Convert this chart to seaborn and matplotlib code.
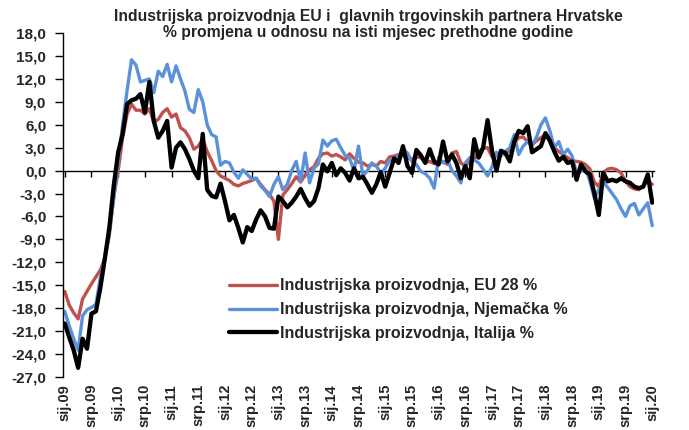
import numpy as np
import pandas as pd
import matplotlib
matplotlib.use("Agg")
import matplotlib.pyplot as plt
import seaborn as sns
from matplotlib.ticker import FuncFormatter

title_line1 = "Industrijska proizvodnja EU i  glavnih trgovinskih partnera Hrvatske"
title_line2 = "% promjena u odnosu na isti mjesec prethodne godine"

series_names = ["Industrijska proizvodnja, EU 28 %",
                "Industrijska proizvodnja, Njemačka %",
                "Industrijska proizvodnja, Italija %"]

tick_labels = ["sij.09", "srp.09", "sij.10", "srp.10", "sij.11", "srp.11", "sij.12", "srp.12",
               "sij.13", "srp.13", "sij.14", "srp.14", "sij.15", "srp.15", "sij.16", "srp.16",
               "sij.17", "srp.17", "sij.18", "srp.18", "sij.19", "srp.19", "sij.20"]

# monthly values, Jan 2009 .. Jan 2020
eu28 = [
    -15.8, -17.6, -18.6, -19.4, -16.8, -15.8, -14.8, -13.9, -13.0, -11.5, -8.5, -3.5,
    0.0, 4.3, 7.4, 8.7, 7.9, 7.9, 7.4, 8.1, 6.3, 6.7, 7.6, 8.1,
    7.0, 7.4, 5.6, 5.2, 4.3, 2.8, 3.2, 4.1, 2.5, 1.3, 0.0, -0.7,
    -1.0, -1.3, -1.8, -2.0, -1.7, -1.5, -1.3, -1.0, -1.8, -2.5, -3.1, -4.0,
    -9.0, -3.2, -2.5, -1.7, -0.8, -1.5, -0.6, 0.1, 0.5, 1.6, 2.2, 2.3,
    1.9, 2.1, 1.8, 1.4, 2.2, 1.6, 1.1, 1.0, 0.6, 0.8, 0.6, 1.2,
    1.0, 1.8, 1.9, 2.1, 2.0, 1.6, 1.5, 1.8, 1.7, 1.1, 1.2, 0.9,
    1.0, 1.2, 0.8, 2.3, 2.5, 1.0, 0.6, 1.2, 1.4, 2.5, 2.9, 3.0,
    1.8, 2.0, 2.3, 2.2, 2.7, 3.6, 4.3, 4.4, 3.8, 3.4, 3.9, 4.3,
    4.7, 4.2, 3.0, 2.5, 2.1, 1.7, 1.3, 1.2, 1.1, 0.8, 0.2, -1.5,
    -2.1, -0.3, 0.2, 0.3, 0.1, -0.3, -1.4, -2.1, -2.4, -2.5, -2.0, -1.3,
    -1.8,
]

germany = [
    -18.4, -20.3, -22.0, -23.5, -19.0, -18.2, -17.9, -17.5, -14.0, -11.5, -8.0, -3.6,
    1.2, 6.0, 10.5, 14.5, 13.8, 11.6, 11.8, 12.0, 10.2, 13.0, 12.3, 13.9,
    11.6, 13.7, 12.0, 10.4, 8.0, 7.6, 10.6, 9.0, 6.0, 4.7, 4.4, 0.7,
    1.2, 1.0, -0.2, -1.0, 0.1, -0.5, -1.1, -1.0, -2.0, -2.6, -3.4, -1.8,
    -0.8, -2.5, -1.8, 0.0, 1.2, -1.4, 2.3, -1.6, 0.3, 0.9, 4.0, 3.2,
    3.9, 4.1, 3.0, 2.0, 1.6, 0.0, 3.2, -0.7, 0.0, 1.0, 0.6, -0.3,
    0.3, 1.4, 1.4, 1.9, 2.8, 2.3, 1.2, 0.8, -0.1, -0.4, -1.0, -2.3,
    1.7, 1.0, 1.4, 0.0, -0.7, -1.6, 1.0, 1.7, 1.4, 1.0, 0.2, -0.7,
    0.5, 2.4, 1.9, 2.5, 3.0, 4.7, 2.1, 3.2, 3.8, 3.2, 4.4, 6.0,
    6.9, 5.2, 3.0, 3.8, 2.1, 2.8, 1.9, -0.3, -0.1, 0.3, -1.4, -3.6,
    -2.5, -1.5, -2.2, -3.0, -3.8, -5.0, -6.0, -4.6, -4.3, -5.8, -5.0, -4.2,
    -7.2,
]

italy = [
    -20.0, -21.8, -23.5, -25.8, -22.0, -23.3, -18.7, -18.4, -15.3, -11.5, -7.5, -2.0,
    2.4, 4.8, 8.7, 9.2, 9.4, 10.0, 7.6, 11.6, 6.5, 4.3, 5.2, 6.5,
    0.4, 3.0, 3.7, 2.8, 1.5, 0.0, -1.0, 4.8, -2.5, -3.3, -3.5, -1.7,
    -4.0, -6.5, -5.8, -7.5, -9.4, -7.4, -7.9, -6.4, -5.2, -6.0, -7.5, -7.6,
    -3.4, -4.0, -4.8, -4.2, -3.4, -2.4, -3.6, -4.6, -4.0, -2.3, 0.8, -0.1,
    1.0, -0.6, 0.3, -0.3, -1.3, 0.3, -1.0, -0.8, -1.8, -2.9, -1.8, -0.2,
    -2.1, -0.3, 1.6, 1.0, 3.2, 0.6, -0.3, 2.7, 2.0, 1.0, 2.8, 1.2,
    0.8, 3.8, 1.2, 2.1, 1.0, -1.0, 0.6, -1.0, 4.1, 1.7, 3.0, 6.6,
    2.6, 0.0, 2.6, 2.3, 1.2, 3.8, 5.2, 4.9, 5.8, 2.4, 2.8, 3.2,
    4.9, 3.9, 2.5, 1.3, 1.8, 1.0, 1.2, -1.2, 0.8, -0.1, -0.5, -3.0,
    -5.8, -0.3, -1.4, -1.2, -1.4, -1.0, -1.4, -1.6, -2.1, -2.3, -2.1, -0.5,
    -4.2,
]

colors = ["#C0504D", "#5A91D8", "#000000"]
widths = [2.4, 2.4, 3.1]

months = np.arange(len(eu28))
df = pd.DataFrame({"m": np.tile(months, 3),
                   "v": eu28 + germany + italy,
                   "s": np.repeat(series_names, len(months))})

sns.set_style("white")
plt.rcParams["font.family"] = ["Liberation Sans", "DejaVu Sans"]

fig = plt.figure(figsize=(6.89, 4.30), dpi=100)
ax = fig.add_axes([63 / 689, 1 - 377 / 430, (654 - 63) / 689, (377 - 33) / 430])

for name, c, w in zip(series_names, colors, widths):
    sns.lineplot(data=df[df["s"] == name], x="m", y="v", color=c, linewidth=w,
                 label=name, ax=ax)

ax.set_xlim(-0.4, 132.4)
ax.set_ylim(-27, 18)
ax.set_yticks(np.arange(-27, 19, 3))
ax.yaxis.set_major_formatter(FuncFormatter(lambda v, p: f"{v:.1f}".replace(".", ",")))
ax.tick_params(axis="y", direction="out", length=6, width=1, color="black",
               labelsize=11, pad=6, left=True)
for lab in ax.get_yticklabels():
    lab.set_fontweight("bold")

for s in ["top", "right"]:
    ax.spines[s].set_visible(False)
ax.spines["left"].set_color("black")
ax.spines["left"].set_linewidth(1)
ax.spines["bottom"].set_position(("data", 0))
ax.spines["bottom"].set_color("black")
ax.spines["bottom"].set_linewidth(1)
ax.spines["bottom"].set_zorder(1)

tick_pos = np.arange(0, len(eu28), 6)
ax.set_xticks(tick_pos)
ax.tick_params(axis="x", direction="out", length=4, width=1, color="black",
               labelbottom=False, bottom=True)
ax.set_xlabel("")
ax.set_ylabel("")

sec = ax.secondary_xaxis("bottom")
sec.set_xticks(tick_pos, labels=tick_labels)
sec.spines["bottom"].set_visible(False)
sec.tick_params(length=0, pad=5, labelsize=10.5)
for lab in sec.get_xticklabels():
    lab.set_rotation(90)
    lab.set_fontweight("bold")

ax.legend(loc="upper left", bbox_to_anchor=((223 - 63) / 591, (377 - 272) / 344),
          bbox_transform=ax.transAxes, frameon=False, handlelength=3.0,
          handletextpad=0.15, labelspacing=0.55, borderaxespad=0,
          prop={"weight": "bold", "size": 11.5})

fig.text(368 / 689, 1 - 16 / 430, title_line1, ha="center", va="center",
         fontsize=11.3, fontweight="bold")
fig.text(368 / 689, 1 - 33 / 430, title_line2, ha="center", va="center",
         fontsize=11.3, fontweight="bold")

fig.savefig("out.png", dpi=100)
